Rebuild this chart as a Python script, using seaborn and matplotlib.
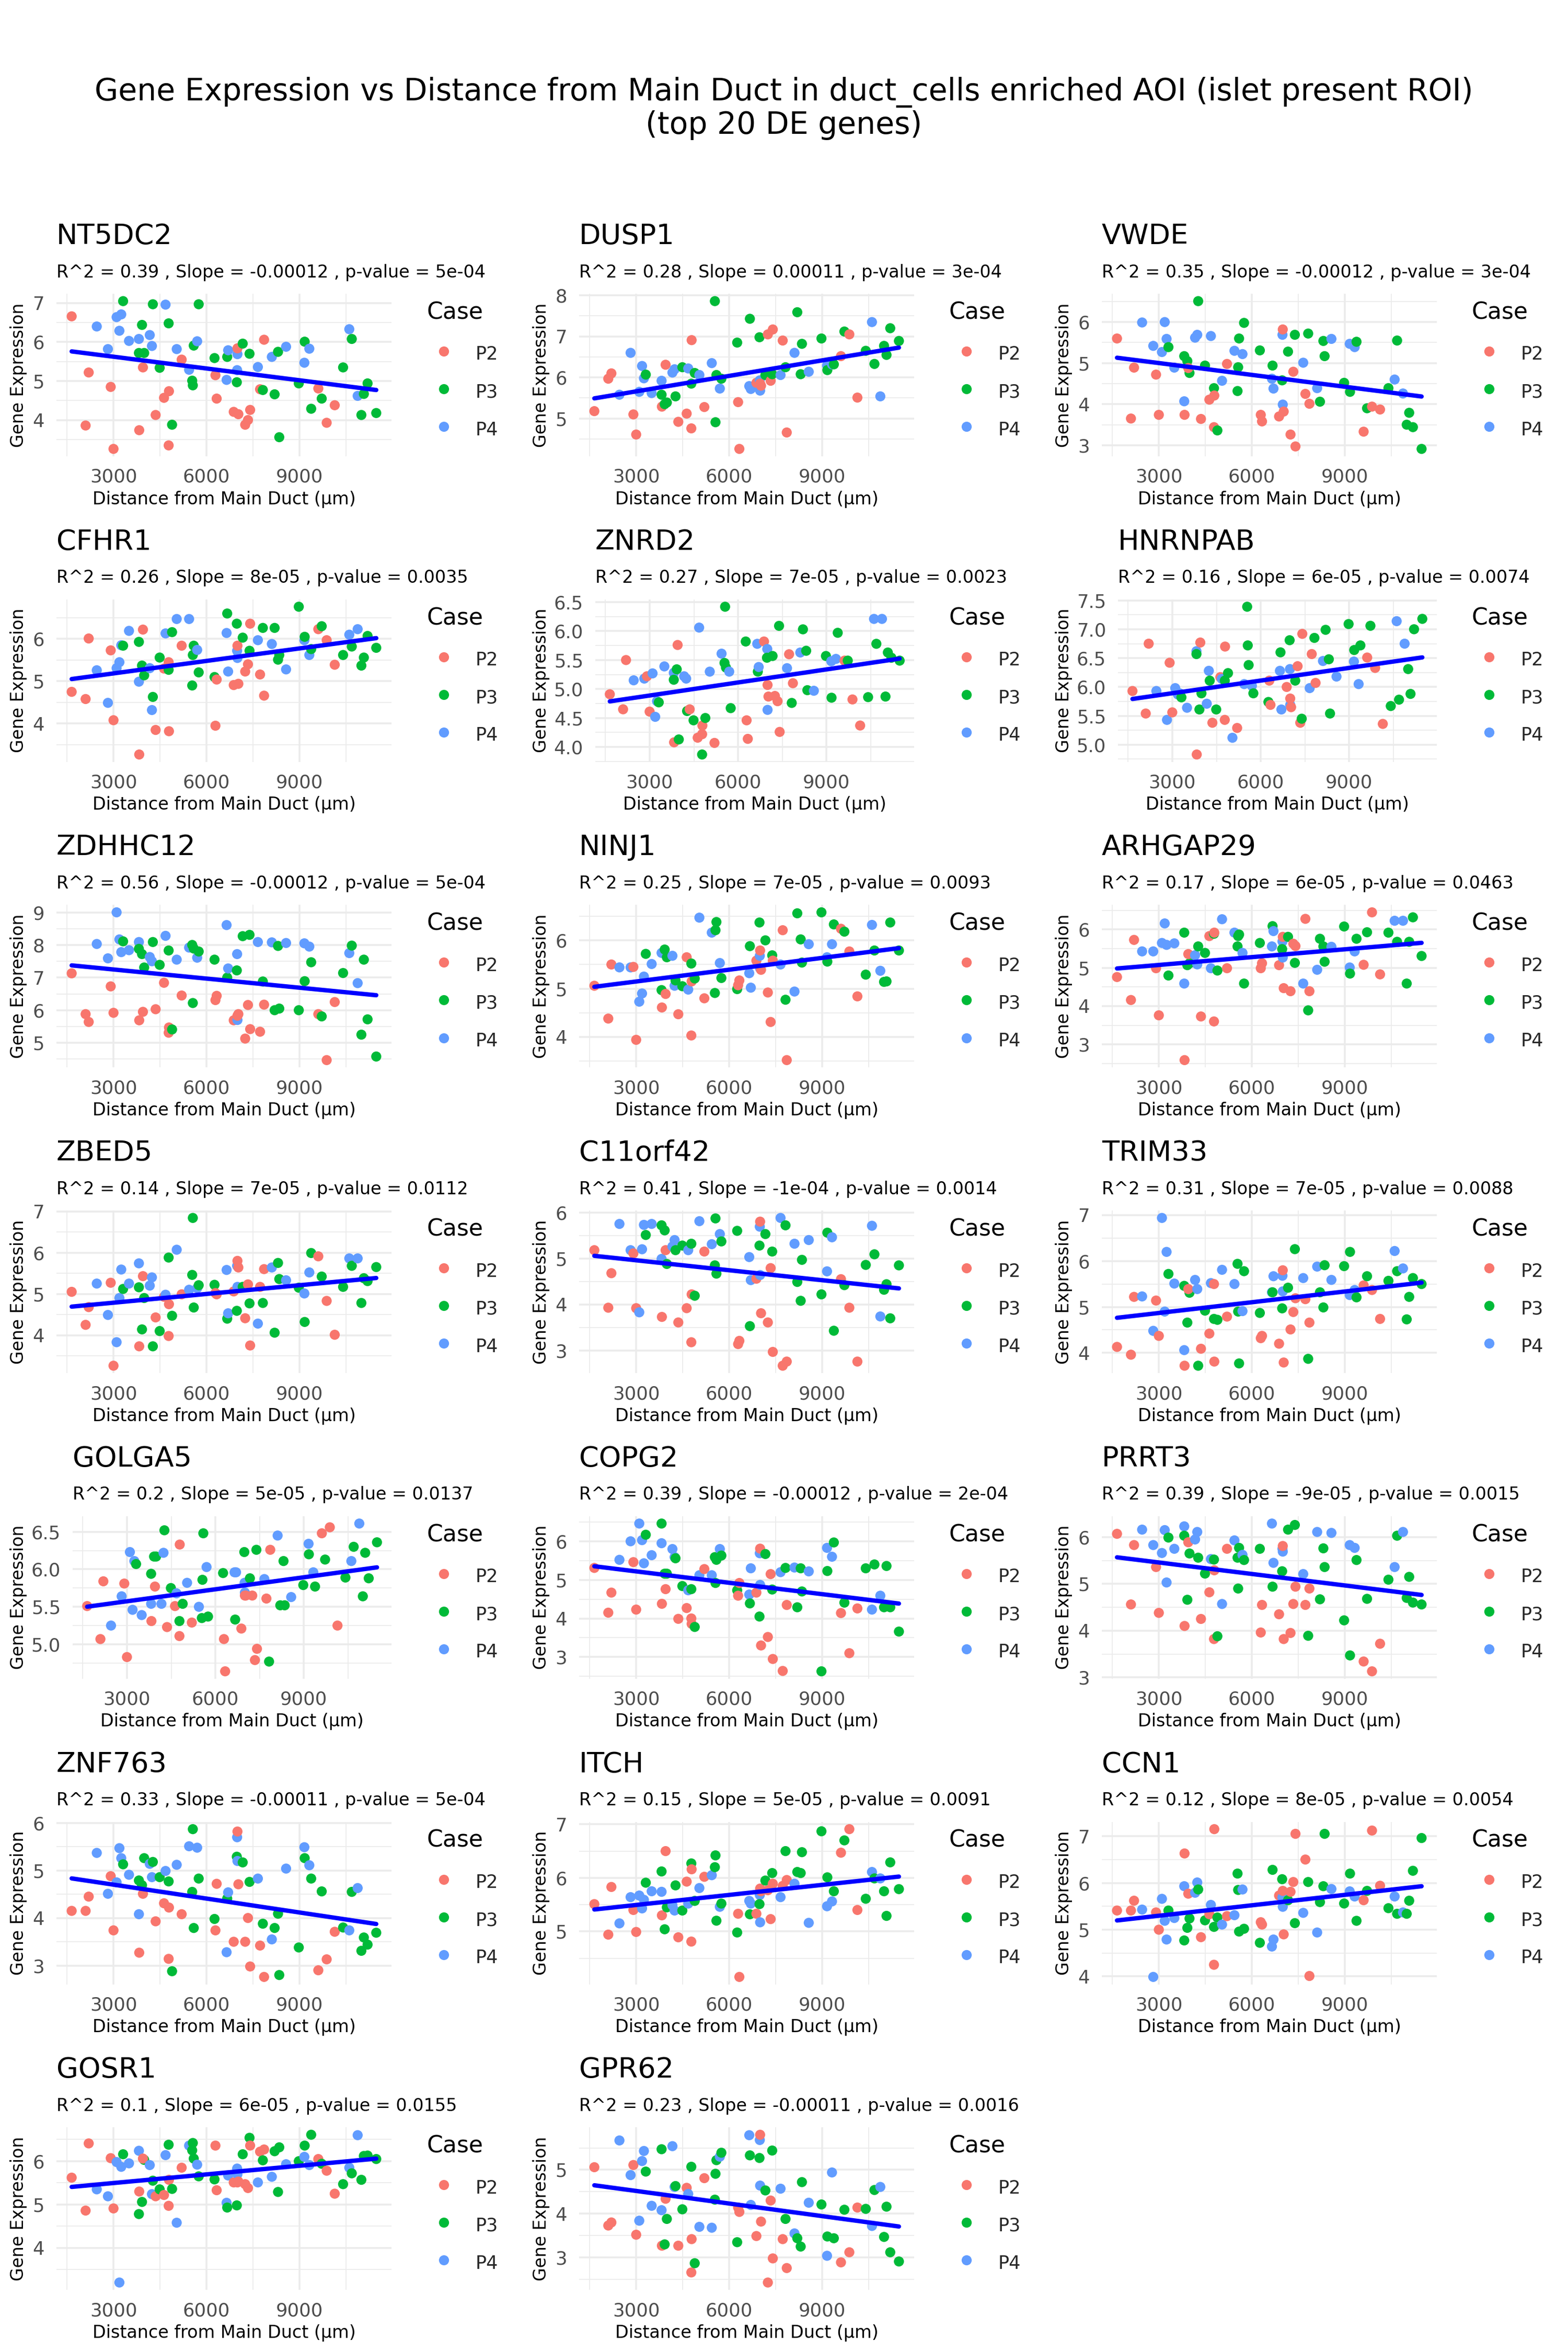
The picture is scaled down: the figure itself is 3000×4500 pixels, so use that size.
import matplotlib
matplotlib.use('Agg')
import matplotlib.pyplot as plt
import matplotlib.ticker as mticker
import pandas as pd
import numpy as np
import seaborn as sns

''' AOI distances (same for every gene) and patient case '''
distance = [1650, 2100, 2200, 2460, 2820, 2910, 3000, 3100, 3250, 3190,
            3310, 3500, 3820, 3830, 3820, 3920, 3990, 3950, 4170, 4240,
            4270, 4360, 4490, 4630, 4680, 4780, 4790, 4780, 4890, 5040,
            5200, 5440, 5540, 5560, 5590, 5700, 5750, 6260, 6290, 6330,
            6650, 6670, 6700, 6880, 6990, 6980, 7000, 7000, 7030, 7170,
            7250, 7340, 7390, 7410, 7660, 7730, 7820, 7860, 8110, 8200,
            8310, 8350, 8570, 8980, 9160, 9170, 9320, 9380, 9610, 9720,
            9880, 10140, 10410, 10610, 10690, 10880, 11000, 11080, 11200, 11480]

case = ['P2', 'P2', 'P2', 'P4', 'P4', 'P2', 'P2', 'P4', 'P4', 'P4',
        'P3', 'P4', 'P4', 'P2', 'P3', 'P3', 'P3', 'P2', 'P4', 'P4',
        'P3', 'P2', 'P3', 'P2', 'P4', 'P3', 'P2', 'P2', 'P3', 'P4',
        'P2', 'P4', 'P3', 'P3', 'P3', 'P4', 'P3', 'P3', 'P2', 'P2',
        'P4', 'P3', 'P4', 'P2', 'P4', 'P3', 'P4', 'P2', 'P2', 'P3',
        'P2', 'P2', 'P3', 'P2', 'P4', 'P2', 'P3', 'P2', 'P4', 'P3',
        'P3', 'P3', 'P4', 'P3', 'P4', 'P3', 'P4', 'P3', 'P2', 'P3',
        'P2', 'P2', 'P3', 'P4', 'P3', 'P4', 'P3', 'P3', 'P3', 'P3']

''' gene expression per AOI '''
NT5DC2 = [6.66, 3.86, 5.22, 6.40, 5.82, 4.85, 3.26, 6.64, 6.71, 6.29,
          7.05, 6.03, 6.08, 3.74, 5.72, 6.44, 5.72, 5.35, 6.18, 5.90,
          6.97, 4.13, 5.34, 4.57, 6.96, 6.48, 4.74, 3.35, 3.88, 5.82,
          5.55, 5.29, 5.01, 4.89, 5.91, 6.02, 6.97, 5.59, 5.15, 4.55,
          5.03, 5.62, 5.79, 4.21, 5.28, 4.97, 5.69, 5.84, 4.15, 5.96,
          3.88, 4.00, 5.70, 4.26, 5.36, 4.79, 4.77, 6.06, 5.62, 4.66,
          5.75, 3.56, 5.88, 4.94, 5.47, 6.01, 5.83, 4.29, 4.81, 4.55,
          3.93, 4.38, 5.35, 6.33, 6.08, 4.62, 4.13, 4.67, 4.94, 4.18]
DUSP1 = [5.18, 5.97, 6.10, 5.58, 6.60, 5.10, 4.61, 5.65, 5.98, 6.28,
         6.07, 5.62, 5.92, 5.29, 5.58, 5.35, 5.39, 6.31, 6.12, 6.20,
         5.54, 4.92, 6.25, 5.12, 6.22, 5.85, 6.91, 4.76, 6.11, 6.06,
         5.28, 6.35, 7.86, 4.91, 6.06, 5.73, 5.97, 6.85, 5.40, 4.26,
         5.79, 7.43, 5.72, 5.87, 5.93, 6.98, 5.68, 5.85, 5.80, 6.06,
         7.05, 5.92, 6.08, 7.17, 6.06, 6.90, 6.25, 4.66, 6.60, 7.59,
         6.08, 6.82, 6.14, 6.95, 6.29, 6.18, 6.32, 6.32, 6.52, 7.12,
         7.05, 5.51, 6.65, 7.35, 6.33, 5.54, 6.77, 6.55, 7.20, 6.89]
VWDE = [5.60, 3.65, 4.89, 5.99, 5.42, 4.72, 3.74, 5.27, 5.59, 6.00,
        5.39, 4.89, 4.07, 3.74, 5.17, 5.05, 4.76, 4.88, 5.62, 5.69,
        6.51, 3.64, 4.94, 4.11, 5.66, 4.39, 4.21, 3.44, 3.36, 4.57,
        4.98, 5.30, 4.32, 4.90, 5.60, 5.22, 5.98, 5.31, 3.74, 3.58,
        4.62, 4.94, 4.38, 3.70, 5.69, 4.58, 3.99, 5.82, 3.82, 5.28,
        3.26, 4.79, 5.69, 2.97, 5.01, 4.25, 5.72, 4.01, 4.39, 4.06,
        5.54, 5.17, 5.59, 4.52, 5.47, 4.30, 5.39, 5.52, 3.33, 3.90,
        3.94, 3.87, 4.39, 4.60, 5.55, 4.26, 3.50, 3.79, 3.44, 2.91]
CFHR1 = [4.75, 4.58, 6.01, 5.26, 4.49, 5.73, 4.08, 5.31, 5.85, 5.45,
         5.84, 6.19, 4.99, 3.27, 5.93, 5.37, 5.14, 6.22, 5.31, 4.32,
         4.63, 3.85, 5.56, 5.30, 6.13, 5.27, 3.82, 5.45, 6.16, 6.47,
         5.84, 6.47, 4.90, 5.62, 5.84, 5.74, 5.21, 5.10, 3.95, 5.04,
         6.14, 6.60, 5.23, 4.91, 5.72, 6.36, 5.55, 5.84, 4.94, 6.03,
         5.23, 5.40, 5.72, 6.36, 5.97, 5.16, 6.26, 4.66, 5.88, 6.26,
         5.51, 5.62, 5.28, 6.76, 5.97, 6.05, 5.62, 5.76, 6.23, 6.30,
         5.97, 5.39, 5.62, 6.10, 5.82, 6.23, 5.37, 5.56, 6.07, 5.79]
ZNRD2 = [4.91, 4.65, 5.50, 5.15, 5.18, 5.22, 4.61, 5.27, 4.79, 4.52,
         4.77, 5.39, 5.28, 4.08, 5.16, 5.34, 4.13, 5.76, 5.22, 5.18,
         4.62, 4.65, 4.46, 4.16, 6.06, 3.87, 4.37, 4.22, 4.50, 5.30,
         4.07, 5.61, 5.45, 6.42, 5.37, 5.30, 4.67, 5.82, 4.46, 4.14,
         5.78, 5.30, 5.38, 5.82, 5.69, 5.54, 4.64, 5.07, 4.87, 5.57,
         4.88, 4.79, 6.09, 4.26, 5.36, 5.60, 4.76, 5.10, 5.63, 6.03,
         5.66, 4.98, 4.97, 5.57, 5.48, 4.85, 5.52, 5.97, 5.49, 5.49,
         4.82, 4.37, 4.86, 6.21, 5.78, 6.21, 4.87, 5.63, 5.54, 5.49]
HNRNPAB = [5.93, 5.54, 6.75, 5.93, 5.43, 6.42, 5.56, 5.98, 5.89, 5.87,
           5.82, 5.64, 6.62, 4.83, 6.57, 5.61, 5.89, 6.77, 5.71, 6.28,
           6.11, 5.38, 5.61, 6.17, 6.14, 6.11, 6.70, 5.43, 6.24, 5.12,
           5.29, 6.05, 7.39, 6.72, 6.38, 6.02, 5.89, 5.74, 6.11, 5.69,
           6.28, 6.60, 5.61, 6.00, 6.31, 6.81, 5.69, 5.80, 5.65, 6.11,
           6.36, 5.38, 5.45, 6.92, 5.98, 6.57, 6.85, 6.07, 6.45, 6.99,
           6.48, 5.54, 6.18, 7.09, 6.44, 6.64, 6.05, 6.72, 6.51, 7.06,
           6.33, 5.36, 5.67, 7.14, 5.78, 6.75, 6.31, 5.88, 7.00, 7.18]
ZDHHC12 = [7.13, 5.88, 5.64, 8.03, 7.59, 6.73, 5.92, 9.00, 7.78, 8.17,
           8.11, 7.84, 8.09, 5.69, 7.88, 7.72, 7.31, 5.95, 7.63, 7.50,
           8.09, 6.03, 7.39, 6.84, 8.28, 7.83, 5.47, 5.31, 5.41, 7.55,
           6.45, 7.92, 8.00, 6.22, 7.89, 7.61, 7.80, 7.55, 6.31, 6.44,
           8.61, 7.00, 7.28, 5.69, 7.72, 7.22, 5.70, 5.83, 5.88, 8.27,
           5.13, 6.16, 8.31, 5.42, 8.09, 5.34, 6.88, 6.17, 8.08, 6.00,
           7.97, 6.05, 8.06, 6.00, 8.05, 6.89, 7.95, 7.47, 5.88, 5.81,
           4.47, 6.25, 7.14, 7.75, 7.98, 6.83, 5.25, 7.55, 5.72, 4.58]
NINJ1 = [5.06, 4.38, 5.50, 5.44, 5.44, 5.45, 3.94, 4.73, 5.25, 4.90,
         5.72, 5.51, 5.74, 4.61, 4.97, 5.81, 5.65, 4.89, 5.68, 5.06,
         5.17, 4.47, 5.05, 5.65, 4.98, 5.52, 5.15, 4.03, 5.21, 6.47,
         4.80, 6.16, 4.91, 6.21, 6.38, 5.53, 5.22, 4.99, 5.07, 5.17,
         5.32, 5.88, 5.02, 5.58, 5.68, 6.37, 5.42, 5.79, 5.39, 6.00,
         4.92, 4.31, 5.69, 5.58, 5.50, 6.21, 4.77, 3.52, 4.94, 6.56,
         6.02, 5.54, 5.92, 6.58, 5.65, 5.56, 5.92, 6.33, 6.24, 6.18,
         5.77, 4.84, 5.29, 6.32, 5.79, 5.37, 5.14, 5.15, 6.37, 5.79]
ARHGAP29 = [4.76, 4.16, 5.73, 5.43, 5.43, 4.99, 3.76, 5.65, 5.60, 6.16,
            4.80, 5.64, 4.59, 2.59, 5.92, 5.07, 5.12, 5.36, 5.33, 5.09,
            5.56, 3.73, 5.39, 5.83, 4.99, 5.89, 5.92, 3.60, 4.93, 6.27,
            4.99, 5.92, 5.56, 5.83, 5.87, 5.39, 4.59, 5.65, 4.99, 5.12,
            5.56, 6.09, 5.96, 5.07, 5.69, 5.49, 5.27, 5.81, 4.47, 5.81,
            4.39, 5.63, 5.13, 5.57, 4.59, 6.28, 3.89, 4.39, 4.95, 5.76,
            5.56, 5.16, 5.55, 6.08, 5.01, 4.85, 5.43, 5.76, 5.08, 5.93,
            6.45, 4.83, 5.92, 6.23, 5.68, 6.23, 4.59, 5.68, 6.32, 5.31]
ZBED5 = [5.05, 4.25, 4.68, 5.25, 4.49, 5.27, 3.26, 3.83, 5.59, 4.90,
         5.12, 5.25, 5.74, 3.73, 5.16, 4.14, 4.90, 5.43, 5.20, 5.40,
         3.73, 4.43, 4.10, 4.93, 4.98, 5.88, 4.75, 3.98, 4.47, 6.07,
         4.99, 5.10, 5.46, 6.84, 4.67, 5.14, 5.21, 5.22, 5.02, 4.99,
         5.58, 4.40, 4.53, 5.06, 5.68, 4.59, 5.17, 5.80, 5.64, 5.17,
         4.41, 5.23, 4.77, 3.75, 4.28, 5.17, 4.78, 5.60, 5.64, 4.06,
         5.75, 5.36, 5.33, 5.15, 5.01, 4.32, 5.52, 5.99, 5.91, 5.42,
         4.83, 4.01, 5.17, 5.86, 5.68, 5.86, 4.78, 5.38, 5.31, 5.65]
C11orf42 = [5.18, 3.93, 4.68, 5.75, 5.18, 5.11, 3.92, 3.83, 5.73, 5.20,
            5.51, 5.75, 4.99, 3.73, 5.72, 5.61, 4.88, 5.18, 5.26, 5.40,
            5.18, 3.61, 5.28, 3.92, 5.18, 5.32, 4.22, 3.18, 4.19, 5.81,
            5.15, 5.31, 4.85, 5.87, 4.67, 5.53, 5.37, 5.60, 3.14, 3.21,
            5.03, 3.53, 4.53, 4.56, 5.69, 5.28, 4.64, 5.80, 3.81, 5.53,
            3.61, 4.79, 5.15, 2.97, 5.88, 2.67, 5.72, 2.76, 5.32, 4.49,
            4.08, 4.97, 5.40, 4.22, 4.72, 5.56, 5.46, 3.43, 4.55, 4.42,
            3.93, 2.76, 4.86, 5.71, 5.09, 3.74, 4.32, 4.44, 3.70, 4.85]
TRIM33 = [4.13, 3.96, 5.22, 5.23, 4.48, 5.14, 4.37, 6.94, 6.20, 4.90,
          5.72, 5.51, 4.06, 3.72, 5.46, 4.66, 5.31, 5.39, 5.59, 5.39,
          3.72, 4.09, 4.92, 4.42, 5.52, 4.74, 3.81, 5.50, 4.72, 5.81,
          4.79, 5.50, 5.94, 4.90, 3.77, 4.91, 5.78, 4.87, 4.32, 4.37,
          5.32, 5.32, 5.67, 4.20, 5.68, 4.97, 5.34, 5.80, 3.79, 5.42,
          4.51, 4.89, 6.26, 5.19, 5.63, 5.17, 3.87, 4.66, 5.88, 5.32,
          4.99, 5.91, 5.59, 5.89, 5.26, 6.20, 5.37, 5.21, 5.47, 5.67,
          5.37, 4.74, 5.57, 6.22, 5.78, 5.84, 4.73, 5.22, 5.63, 5.50]
GOLGA5 = [5.51, 5.07, 5.84, 5.25, 5.64, 5.81, 4.83, 6.23, 6.11, 5.46,
          6.07, 5.39, 5.54, 5.31, 5.94, 6.17, 6.17, 5.77, 5.54, 6.22,
          6.52, 5.23, 5.75, 5.51, 5.68, 5.31, 6.33, 5.11, 5.54, 5.82,
          5.29, 5.50, 5.35, 5.86, 6.48, 6.03, 5.37, 5.95, 5.07, 4.64,
          5.96, 5.33, 5.96, 5.21, 5.82, 6.23, 5.69, 5.65, 5.65, 5.88,
          5.65, 4.79, 6.26, 4.94, 5.87, 5.61, 4.77, 6.26, 6.45, 5.52,
          6.11, 5.52, 5.63, 5.79, 6.34, 6.20, 5.96, 5.77, 6.48, 6.13,
          6.56, 5.25, 5.89, 6.11, 6.30, 6.61, 5.64, 6.22, 5.88, 6.36]
COPG2 = [5.31, 4.15, 4.67, 5.52, 6.00, 5.46, 4.23, 6.46, 5.43, 6.03,
         6.17, 5.64, 5.95, 4.38, 6.46, 5.16, 5.16, 4.76, 5.80, 5.59,
         5.56, 3.99, 4.84, 4.27, 4.73, 4.76, 3.86, 4.00, 3.78, 5.12,
         5.28, 5.12, 5.59, 4.92, 5.52, 5.80, 5.63, 4.73, 4.59, 4.92,
         4.62, 4.39, 5.30, 4.67, 5.69, 4.05, 4.87, 5.81, 3.30, 5.67,
         3.52, 5.15, 4.75, 2.95, 5.20, 2.64, 5.31, 4.35, 5.32, 4.29,
         5.30, 4.70, 5.22, 2.63, 5.83, 5.23, 5.60, 5.97, 4.14, 4.41,
         3.10, 4.26, 5.30, 4.23, 5.40, 4.59, 4.29, 5.36, 4.29, 3.66]
PRRT3 = [6.07, 4.56, 5.83, 6.16, 5.83, 5.36, 4.38, 5.66, 5.03, 6.15,
         5.99, 5.75, 6.23, 4.10, 6.03, 4.66, 5.65, 5.89, 5.95, 6.11,
         5.56, 4.25, 5.22, 4.82, 5.53, 5.52, 5.29, 3.82, 3.88, 4.57,
         5.75, 5.93, 5.56, 4.90, 5.77, 5.62, 5.51, 5.75, 3.96, 4.55,
         6.29, 4.94, 5.45, 4.35, 5.75, 5.27, 5.69, 5.81, 3.82, 6.16,
         3.95, 4.57, 6.26, 4.94, 5.21, 4.55, 3.89, 4.90, 6.11, 4.67,
         5.76, 5.36, 6.09, 4.22, 5.83, 3.47, 5.77, 5.51, 3.34, 4.68,
         3.13, 3.72, 5.09, 5.36, 6.03, 6.11, 4.70, 5.15, 4.60, 4.56]
ZNF763 = [4.15, 4.15, 4.45, 5.37, 4.51, 4.88, 3.74, 4.75, 5.26, 5.47,
          5.13, 4.91, 4.08, 3.27, 4.79, 4.69, 5.26, 4.51, 5.14, 4.86,
          5.18, 3.93, 4.86, 4.31, 4.99, 4.77, 4.22, 3.14, 2.88, 5.12,
          4.08, 5.51, 4.55, 5.87, 3.79, 5.48, 4.83, 3.98, 3.74, 4.72,
          3.28, 4.41, 4.54, 3.50, 5.70, 5.29, 5.20, 5.82, 4.71, 5.17,
          3.50, 4.00, 4.76, 2.98, 4.83, 3.42, 3.88, 2.76, 3.55, 3.79,
          4.09, 2.80, 5.04, 3.38, 5.49, 5.26, 5.11, 4.83, 2.90, 4.56,
          3.13, 3.71, 3.80, 3.74, 4.55, 4.63, 3.31, 3.59, 3.44, 3.69]
ITCH = [5.51, 4.94, 5.83, 5.15, 5.64, 5.40, 4.99, 5.67, 5.59, 5.43,
        5.91, 5.75, 5.74, 5.30, 6.12, 5.04, 5.45, 6.50, 5.49, 5.39,
        5.86, 4.89, 5.39, 5.93, 5.52, 6.27, 6.16, 4.81, 5.57, 5.81,
        6.02, 6.05, 6.20, 6.42, 5.20, 5.46, 5.52, 4.98, 5.33, 4.15,
        5.57, 5.32, 5.52, 5.33, 5.68, 5.51, 5.17, 5.80, 5.75, 5.95,
        5.77, 5.23, 6.09, 5.89, 5.64, 5.85, 6.50, 5.96, 5.89, 6.11,
        6.09, 6.48, 5.16, 6.87, 5.47, 6.01, 5.56, 5.75, 6.47, 6.70,
        6.91, 5.40, 5.61, 6.11, 5.99, 5.99, 5.75, 5.29, 6.29, 5.79]
CCN1 = [5.41, 5.41, 5.62, 5.43, 3.99, 5.37, 5.00, 5.66, 4.79, 5.19,
        5.41, 5.25, 5.93, 6.63, 4.77, 5.04, 5.24, 5.77, 5.79, 6.01,
        5.86, 4.84, 5.20, 5.33, 5.53, 5.06, 7.15, 4.25, 5.26, 5.11,
        5.29, 5.31, 6.20, 5.85, 4.96, 5.86, 5.02, 4.72, 5.16, 5.11,
        4.64, 6.28, 4.79, 5.73, 5.69, 6.08, 5.49, 5.83, 4.90, 5.63,
        5.81, 6.02, 5.14, 7.05, 5.36, 6.50, 6.02, 4.01, 4.94, 5.59,
        5.93, 7.05, 5.87, 5.56, 5.82, 6.20, 5.71, 5.19, 5.63, 5.83,
        7.12, 5.94, 5.46, 5.71, 5.34, 5.37, 5.34, 5.62, 6.26, 6.96]
GOSR1 = [5.62, 4.86, 6.41, 5.35, 5.19, 6.07, 4.91, 5.98, 5.87, 3.20,
         6.16, 5.95, 6.24, 5.30, 4.78, 5.06, 6.03, 6.06, 5.91, 5.24,
         5.55, 5.19, 5.35, 5.22, 6.14, 6.38, 5.57, 4.97, 5.36, 4.58,
         5.85, 6.36, 6.25, 6.42, 6.06, 5.92, 5.65, 5.58, 6.36, 5.33,
         5.04, 4.93, 5.67, 5.51, 5.83, 4.98, 5.70, 5.51, 5.53, 6.16,
         5.47, 5.38, 6.54, 6.36, 5.51, 6.22, 6.02, 6.27, 5.64, 6.23,
         5.29, 6.32, 5.93, 6.00, 6.10, 6.36, 5.91, 6.61, 6.05, 5.94,
         5.78, 5.25, 5.47, 5.85, 5.72, 6.60, 5.57, 6.12, 6.13, 6.05]
GPR62 = [5.06, 3.73, 3.80, 5.67, 4.88, 5.11, 3.52, 3.84, 5.43, 5.20,
         4.96, 4.18, 4.08, 3.27, 5.47, 3.30, 3.88, 4.34, 5.54, 4.61,
         4.63, 3.27, 4.10, 4.59, 4.45, 5.07, 3.42, 2.66, 2.87, 3.70,
         4.81, 3.68, 4.32, 4.91, 5.22, 5.30, 5.39, 3.35, 4.14, 4.04,
         5.79, 5.33, 4.20, 3.49, 5.68, 5.27, 4.64, 5.80, 3.82, 4.53,
         2.43, 4.30, 5.44, 2.98, 4.57, 3.42, 3.88, 2.76, 3.55, 3.44,
         3.25, 4.72, 4.25, 4.21, 3.04, 3.48, 4.94, 3.44, 2.89, 4.09,
         3.12, 4.14, 4.11, 3.72, 4.54, 4.61, 3.47, 4.16, 3.12, 2.91]

genes = ['NT5DC2', 'DUSP1', 'VWDE', 'CFHR1', 'ZNRD2', 'HNRNPAB', 'ZDHHC12',
         'NINJ1', 'ARHGAP29', 'ZBED5', 'C11orf42', 'TRIM33', 'GOLGA5', 'COPG2',
         'PRRT3', 'ZNF763', 'ITCH', 'CCN1', 'GOSR1', 'GPR62']
r2 = ['0.39', '0.28', '0.35', '0.26', '0.27', '0.16', '0.56', '0.25', '0.17', '0.14',
      '0.41', '0.31', '0.2', '0.39', '0.39', '0.33', '0.15', '0.12', '0.1', '0.23']
slopes = ['-0.00012', '0.00011', '-0.00012', '8e-05', '7e-05', '6e-05', '-0.00012',
          '7e-05', '6e-05', '7e-05', '-1e-04', '7e-05', '5e-05', '-0.00012', '-9e-05',
          '-0.00011', '5e-05', '8e-05', '6e-05', '-0.00011']
pvals = ['5e-04', '3e-04', '3e-04', '0.0035', '0.0023', '0.0074', '5e-04', '0.0093',
         '0.0463', '0.0112', '0.0014', '0.0088', '0.0137', '2e-04', '0.0015', '5e-04',
         '0.0091', '0.0054', '0.0155', '0.0016']
yticks = [[4, 5, 6, 7], [5, 6, 7, 8], [3, 4, 5, 6], [4, 5, 6],
          [4.0, 4.5, 5.0, 5.5, 6.0, 6.5], [5.0, 5.5, 6.0, 6.5, 7.0, 7.5],
          [5, 6, 7, 8, 9], [4, 5, 6], [3, 4, 5, 6], [4, 5, 6, 7], [3, 4, 5, 6],
          [4, 5, 6, 7], [5.0, 5.5, 6.0, 6.5], [3, 4, 5, 6], [3, 4, 5, 6],
          [3, 4, 5, 6], [5, 6, 7], [4, 5, 6, 7], [4, 5, 6], [3, 4, 5]]
xticks = [3000, 6000, 9000]
case_order = ['P2', 'P3', 'P4']
case_colors = ['#F8766D', '#00BA38', '#619CFF']

df = pd.DataFrame({'distance': distance, 'Case': case})
for g in genes:
    df[g] = globals()[g]

sns.set_theme(style='white')
plt.rcParams['font.family'] = ['DejaVu Sans']

W, H = 3000, 4500
fig = plt.figure(figsize=(10, 15), dpi=300)
fig.patch.set_facecolor('white')


def fx(px):
    return px / W


def fy(py):
    return 1 - py / H


fig.text(0.5, fy(177), 'Gene Expression vs Distance from Main Duct in duct_cells enriched AOI (islet present ROI)',
         ha='center', va='center', fontsize=14, color='black')
fig.text(0.5, fy(240), '(top 20 DE genes)', ha='center', va='center', fontsize=14, color='black')

for i, g in enumerate(genes):
    r, c = i // 3, i % 3
    top = 562 + 584.7 * r
    ph = 311
    ticks = yticks[i]
    decimal = any(float(t) != int(t) for t in ticks)
    left = c * 1000 + (139 if decimal else 108)
    right = c * 1000 + 749
    ax = fig.add_axes([fx(left), fy(top + ph), (right - left) / W, ph / H])

    sns.scatterplot(data=df, x='distance', y=g, hue='Case', hue_order=case_order,
                    palette=case_colors, s=21.5, linewidth=0, ax=ax, zorder=3)
    sns.regplot(data=df, x='distance', y=g, scatter=False, ci=None, color='blue',
                line_kws={'lw': 2.0, 'zorder': 4}, ax=ax)

    # ggplot style limits: data range + 5%
    xs = np.array(distance)
    ys = df[g].values
    xpad = 0.05 * (xs.max() - xs.min())
    ypad = 0.05 * (ys.max() - ys.min())
    ax.set_xticks(xticks)
    ax.set_xticklabels([str(t) for t in xticks])
    ax.set_yticks(ticks)
    ax.set_yticklabels(['%.1f' % t if decimal else '%d' % t for t in ticks])
    ax.set_xlim(xs.min() - xpad, xs.max() + xpad)
    ax.set_ylim(ys.min() - ypad, ys.max() + ypad)
    ax.xaxis.set_minor_locator(mticker.MultipleLocator(1500))
    ystep = ticks[1] - ticks[0]
    ax.yaxis.set_minor_locator(mticker.MultipleLocator(ystep / 2))

    ax.set_facecolor('white')
    for sp in ax.spines.values():
        sp.set_visible(False)
    ax.grid(which='major', color='#EBEBEB', lw=0.85)
    ax.grid(which='minor', color='#EBEBEB', lw=0.42)
    ax.set_axisbelow(True)
    ax.tick_params(which='both', length=0, labelsize=8.5, labelcolor='#4D4D4D', pad=5.5)
    ax.set_xlabel('')
    ax.set_ylabel('')

    fig.text(fx(left), fy(top - 110), g, ha='left', va='center', fontsize=13, color='black')
    fig.text(fx(left), fy(top - 41), 'R^2 = %s , Slope = %s , p-value = %s' % (r2[i], slopes[i], pvals[i]),
             ha='left', va='center', fontsize=8.0, color='black')
    fig.text(fx((left + right) / 2), fy(top + ph + 82), 'Distance from Main Duct (\u00b5m)',
             ha='center', va='center', fontsize=8.0, color='black')
    fig.text(fx(c * 1000 + 36), fy(top + ph / 2), 'Gene Expression', rotation=90,
             ha='center', va='center', fontsize=7.9, color='black')

    ''' legend: title as text, keys centred on the middle entry '''
    fig.text(fx(c * 1000 + 816), fy(top + 36), 'Case', ha='left', va='center',
             fontsize=10.6, color='black')
    sns.move_legend(ax, 'center left', bbox_to_anchor=(fx(c * 1000 + 814), fy(top + 187)),
                    bbox_transform=fig.transFigure, frameon=False, title=None,
                    fontsize=8.4, handlelength=2.0, handletextpad=0.74,
                    handleheight=1.5, labelspacing=0.84, borderpad=0, borderaxespad=0)

fig.savefig('out.png', dpi=300, facecolor='white')
